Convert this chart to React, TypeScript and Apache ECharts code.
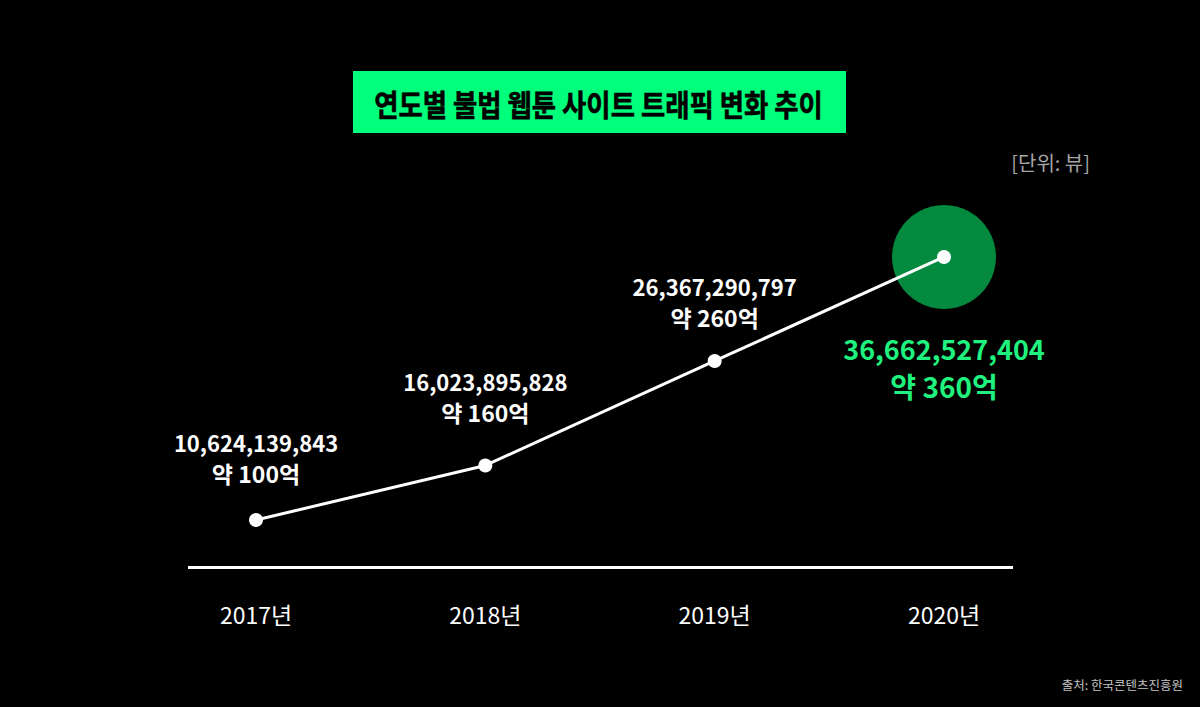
import React, { useEffect, useRef } from "react";
import * as echarts from "echarts";

const years = ["2017년", "2018년", "2019년", "2020년"];
const views = [10624139843, 16023895828, 26367290797, 36662527404];
const approxLabels = ["약 100억", "약 160억", "약 260억", "약 360억"];
const labelDistances = [24, 31, 21, 66.5];
const titleText = "연도별 불법 웹툰 사이트 트래픽 변화 추이";
const unitText = "[단위: 뷰]";
const sourceText = "출처: 한국콘텐츠진흥원";

const FONT = '"Noto Sans CJK KR", "Noto Sans", sans-serif';
const GREEN = "#00ff7b";
const LABEL_GREEN = "#1ff27e";
const CIRCLE_GREEN = "#038a3e";

function fmt(n: number) {
  return n.toString().replace(/\B(?=(\d{3})+(?!\d))/g, ",");
}

export default function App() {
  const ref = useRef<HTMLDivElement>(null);
  useEffect(() => {
    document.body.style.margin = "0";
    const chart = echarts.init(ref.current!, null, { renderer: "svg" });
    const last = views.length - 1;
    const lineData = views.map((v, i) => {
      const isLast = i === last;
      return {
        value: v,
        label: {
          show: true,
          position: isLast ? "bottom" : "top",
          distance: labelDistances[i],
          formatter: isLast
            ? `{c|${fmt(v)}}\n{d|${approxLabels[i]}}`
            : `{a|${fmt(v)}}\n{b|${approxLabels[i]}}`,
          rich: {
            a: { fontFamily: FONT, fontSize: 22, fontWeight: "bold", color: "#ffffff", lineHeight: 31, align: "center" },
            b: { fontFamily: FONT, fontSize: 23, fontWeight: "bold", color: "#ffffff", lineHeight: 31, align: "center" },
            c: { fontFamily: FONT, fontSize: 27, fontWeight: "bold", color: LABEL_GREEN, lineHeight: 37, align: "center" },
            d: { fontFamily: FONT, fontSize: 28, fontWeight: "bold", color: LABEL_GREEN, lineHeight: 37, align: "center" },
          },
        },
      };
    });
    const highlight = views.map((v, i) => (i === last ? v : null));
    chart.setOption({
      animation: false,
      backgroundColor: "#000000",
      grid: { left: 141.33, right: 141.33, top: 150, bottom: 139 },
      xAxis: {
        type: "category",
        data: years,
        boundaryGap: true,
        axisLine: { show: false },
        axisTick: { show: false },
        splitLine: { show: false },
        axisLabel: {
          color: "#ffffff",
          fontFamily: FONT,
          fontSize: 23,
          lineHeight: 23,
          margin: 34,
        },
      },
      yAxis: {
        type: "value",
        min: 5.871e9,
        max: 47.255e9,
        show: false,
        splitLine: { show: false },
      },
      series: [
        {
          type: "scatter",
          data: highlight,
          symbolSize: 104,
          itemStyle: { color: CIRCLE_GREEN, opacity: 1 },
          z: 1,
          silent: true,
        },
        {
          type: "line",
          data: lineData,
          symbol: "circle",
          symbolSize: 14,
          showAllSymbol: true,
          lineStyle: { color: "#ffffff", width: 3 },
          itemStyle: { color: "#ffffff", borderWidth: 0 },
          z: 3,
        },
      ],
      graphic: [
        {
          type: "line",
          shape: { x1: 188, y1: 567.5, x2: 1013, y2: 567.5 },
          style: { stroke: "#ffffff", lineWidth: 3 },
          z: 2,
        },
        {
          type: "rect",
          shape: { x: 353, y: 71, width: 493, height: 62 },
          style: { fill: GREEN },
        },
        {
          type: "text",
          x: 598.5,
          y: 103,
          scaleX: 0.88,
          style: {
            text: titleText,
            fill: "#000000",
            stroke: "#000000",
            lineWidth: 0.6,
            font: `bold 30px ${FONT}`,
            textAlign: "center",
            textVerticalAlign: "middle",
          },
        },
        {
          type: "text",
          x: 1090,
          y: 162,
          style: {
            text: unitText,
            fill: "#a6a6a6",
            font: `20px ${FONT}`,
            textAlign: "right",
            textVerticalAlign: "middle",
          },
        },
        {
          type: "text",
          x: 1183,
          y: 684,
          style: {
            text: sourceText,
            fill: "#c4c4c4",
            font: `12.5px ${FONT}`,
            textAlign: "right",
            textVerticalAlign: "middle",
          },
        },
      ],
    });
    return () => chart.dispose();
  }, []);
  return <div ref={ref} style={{ width: 1200, height: 707, position: "fixed", left: 0, top: 0 }} />;
}
